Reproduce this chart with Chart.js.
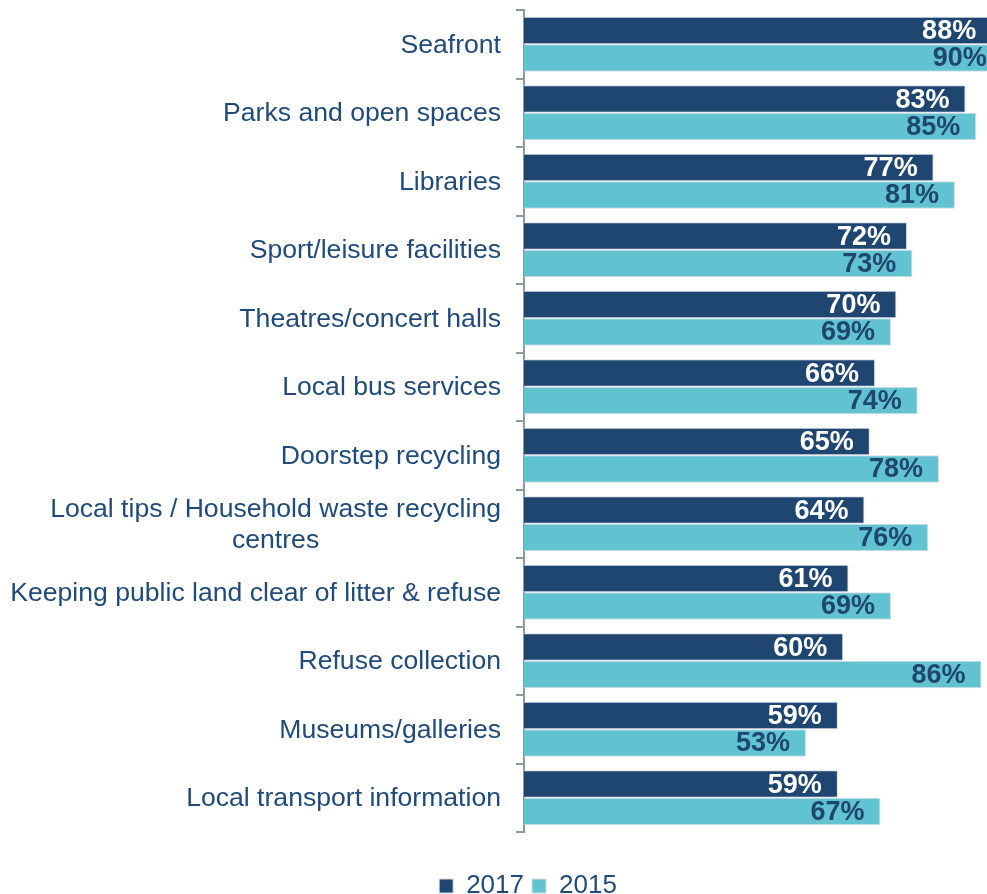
<!DOCTYPE html>
<html>
<head>
<meta charset="utf-8">
<script src="https://cdn.jsdelivr.net/npm/chart.js@4/dist/chart.umd.min.js"></script>
<style>
  html, body { margin: 0; padding: 0; background: #fff; overflow: hidden; }
  #wrap { width: 1060px; height: 909px; }
</style>
</head>
<body>
<div id="wrap"><canvas id="servicesChart" width="1060" height="909"></canvas></div>
<script>
const categories = [
  "Seafront",
  "Parks and open spaces",
  "Libraries",
  "Sport/leisure facilities",
  "Theatres/concert halls",
  "Local bus services",
  "Doorstep recycling",
  ["Local tips / Household waste recycling", "centres"],
  "Keeping public land clear of litter & refuse",
  "Refuse collection",
  "Museums/galleries",
  "Local transport information"
];
const values2017 = [88, 83, 77, 72, 70, 66, 65, 64, 61, 60, 59, 59];
const values2015 = [90, 85, 81, 73, 69, 74, 78, 76, 69, 86, 53, 67];
const seriesNames = ["2017", "2015"];

const NAVY = "#1f4571";
const TEAL = "#62c3d0";
const TEXT = "#1f4a7a";
const AXIS = "#8d97a7";
const FONT = "'Liberation Sans', Arial, sans-serif";

// category names drawn by hand so wrapped lines sit centred under each other
const categoryLabels = {
  id: "categoryLabels",
  afterDraw(chart) {
    const ctx = chart.ctx;
    const yScale = chart.scales.y;
    ctx.save();
    ctx.font = "26.6px " + FONT;
    ctx.fillStyle = TEXT;
    ctx.textAlign = "center";
    ctx.textBaseline = "middle";
    const rightEdge = 501;
    const lineH = 31;
    categories.forEach((cat, i) => {
      const lines = Array.isArray(cat) ? cat : [cat];
      const w = Math.max(...lines.map(l => ctx.measureText(l).width));
      const cx = rightEdge - w / 2;
      const cy = yScale.getPixelForTick(i) + 1;
      lines.forEach((l, k) => {
        ctx.fillText(l, cx, cy + (k - (lines.length - 1) / 2) * lineH);
      });
    });
    ctx.restore();
  }
};

// percentage labels at the end of each bar
const valueLabels = {
  id: "valueLabels",
  afterDatasetsDraw(chart) {
    const ctx = chart.ctx;
    ctx.save();
    ctx.font = "bold 27px " + FONT;
    ctx.textAlign = "right";
    ctx.textBaseline = "middle";
    chart.data.datasets.forEach((ds, di) => {
      const meta = chart.getDatasetMeta(di);
      ctx.fillStyle = di === 0 ? "#ffffff" : NAVY;
      meta.data.forEach((bar, i) => {
        ctx.fillText(ds.data[i] + "%", bar.x - 16, bar.y + 1);
      });
    });
    ctx.restore();
  }
};

new Chart(document.getElementById("servicesChart"), {
  type: "bar",
  data: {
    labels: categories,
    datasets: [
      {
        label: seriesNames[0],
        data: values2017,
        backgroundColor: NAVY,
        borderColor: "#d6dce5",
        borderWidth: 1,
        categoryPercentage: 0.8,
        barPercentage: 1.0
      },
      {
        label: seriesNames[1],
        data: values2015,
        backgroundColor: TEAL,
        borderColor: "#d6dce5",
        borderWidth: 1,
        categoryPercentage: 0.8,
        barPercentage: 1.0
      }
    ]
  },
  options: {
    indexAxis: "y",
    responsive: false,
    animation: false,
    layout: { padding: { top: 10, right: 4, left: 0, bottom: 0 } },
    scales: {
      x: {
        min: 0,
        max: 100,
        ticks: { display: false },
        grid: { display: false },
        border: { display: false },
        afterFit(s) { s.height = 33; }
      },
      y: {
        ticks: { display: false },
        grid: {
          display: true,
          drawOnChartArea: false,
          drawTicks: true,
          tickLength: 8,
          color: AXIS,
          lineWidth: 2,
          offset: true
        },
        border: { display: true, color: AXIS, width: 2 },
        afterFit(s) { s.width = 524; }
      }
    },
    plugins: {
      legend: {
        position: "bottom",
        labels: {
          boxWidth: 14,
          boxHeight: 14,
          padding: 8,
          color: TEXT,
          font: { family: FONT, size: 26 }
        }
      },
      tooltip: { enabled: false }
    }
  },
  plugins: [categoryLabels, valueLabels]
});
</script>
</body>
</html>
